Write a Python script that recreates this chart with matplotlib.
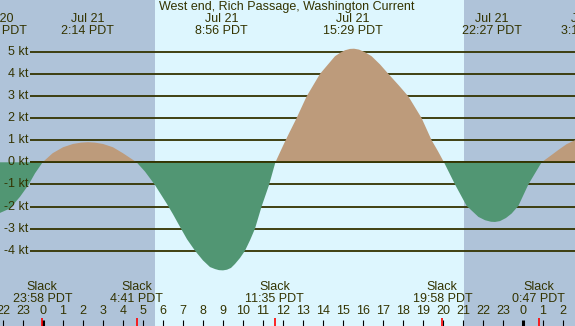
import matplotlib
matplotlib.use('Agg')
import matplotlib.pyplot as plt
import numpy as np

# current speed (kt), hours from Jul 21 00:00 PDT
hours = [-2.15, -1.65, -1.15, -0.73, -0.40, -0.02,
         0.48, 1.0, 1.5, 1.9, 2.25, 2.6, 3.0, 3.5, 4.0, 4.68,
         5.1, 5.6, 6.18, 6.5, 6.85, 7.2, 7.6, 8.0, 8.35, 8.6, 8.8, 9.0, 9.2, 9.4, 9.6, 9.85, 10.1, 10.35,
         10.6, 10.93, 11.3, 11.62,
         12.1, 12.35, 12.68, 13.18, 13.85, 14.6, 14.85, 15.1, 15.35, 15.55, 15.8, 16.1, 16.43, 16.85,
         17.27, 17.8, 18.27, 18.93, 19.43, 19.75, 20.05,
         20.6, 21.18, 21.77, 22.1, 22.4, 22.6, 22.85, 23.15, 23.43, 23.77, 24.27, 24.6, 24.93,
         25.43, 25.77, 26.18, 26.6]
speed = [-2.29, -2.09, -1.56, -1.03, -0.50, 0.0,
         0.41, 0.68, 0.83, 0.89, 0.91, 0.89, 0.83, 0.68, 0.41, 0.0,
         -0.42, -1.03, -1.86, -2.35, -2.92, -3.48, -4.0, -4.44, -4.74, -4.83, -4.88, -4.89, -4.86, -4.78,
         -4.6, -4.33, -4.0, -3.53,
         -3.0, -2.0, -1.03, 0.0,
         0.94, 1.40, 2.0, 2.98, 4.0, 4.8, 4.95, 5.07, 5.13, 5.14, 5.1, 4.98, 4.8, 4.43,
         4.0, 3.47, 2.98, 2.0, 1.0, 0.5, 0.0,
         -1.0, -1.97, -2.47, -2.62, -2.69, -2.7, -2.66, -2.52, -2.32, -1.97, -1.0, -0.5, 0.0,
         0.33, 0.56, 0.82, 1.0]

title = 'West end, Rich Passage, Washington Current'
max_dates = ['Jul 20', 'Jul 21', 'Jul 21', 'Jul 21', 'Jul 21', 'Jul 22']
max_days = [-1, 0, 0, 0, 0, 1]
max_times = ['21:42', '2:14', '8:56', '15:29', '22:27', '3:13']
slack_days = [-1, 0, 0, 0, 1]
slack_times = ['23:58', '4:41', '11:35', '19:58', '0:47']
sunrise = '5:36'
sunset = '21:03'
kt_levels = [5, 4, 3, 2, 1, 0, -1, -2, -3, -4]


def to_hour(day, s):
    h, m = s.split(':')
    return day * 24 + int(h) + int(m) / 60.0


def py(p):
    # pixel row (from top) -> knots
    return (162.3 - p) / 22.1


night = '#afc3d9'
day = '#ddf6fe'
flood = '#bd9b7b'
ebb = '#519673'
ink = '#333300'

plt.rcParams['font.family'] = ['Liberation Sans', 'DejaVu Sans']
fig = plt.figure(figsize=(5.75, 3.26), dpi=100)
ax = fig.add_axes([0, 0, 1, 1])
x0, x1 = -2.15, 26.6
ax.set_xlim(x0, x1)
ax.set_ylim(py(326), py(0))
ax.axis('off')

rise = to_hour(0, sunrise)
sset = to_hour(0, sunset)
ax.axvspan(x0, rise, color=night, lw=0, zorder=0)
ax.axvspan(rise, sset, color=day, lw=0, zorder=0)
ax.axvspan(sset, x1, color=night, lw=0, zorder=0)

t = np.array(hours)
v = np.array(speed)
ax.hlines(kt_levels, -0.65, x1, color=ink, lw=1.3, zorder=1)
ax.fill_between(t, v, 0, where=v >= 0, interpolate=True, color=flood, lw=0, zorder=2)
ax.fill_between(t, v, 0, where=v <= 0, interpolate=True, color=ebb, lw=0, zorder=2)
ax.hlines([0], -0.65, x1, color=ink, lw=1.3, zorder=3)

for k in kt_levels:
    ax.text(-0.75, k, '%d kt' % k, ha='right', va='center', fontsize=9, color=ink)

ax.text((287 - 43) / 20.0, py(7), title, ha='center', va='center', fontsize=9, color=ink)

for d, dt, tm in zip(max_days, max_dates, max_times):
    h = to_hour(d, tm)
    ax.text(h, py(19.5), dt, ha='center', va='center', fontsize=9, color=ink)
    ax.text(h, py(31), tm + ' PDT', ha='center', va='center', fontsize=9, color=ink)

for d, tm in zip(slack_days, slack_times):
    h = to_hour(d, tm)
    ax.text(h, py(287), 'Slack', ha='center', va='center', fontsize=9, color=ink)
    ax.text(h, py(299.5), tm + ' PDT', ha='center', va='center', fontsize=9, color=ink)

# hour ticks along the bottom edge
for h in range(-2, 27):
    ax.text(h, py(311.5), str(h % 24), ha='center', va='center', fontsize=9, color=ink)
    lw = 2.2 if h % 24 == 0 else 0.8
    ax.vlines(h, py(326), py(320), color='black', lw=lw, zorder=4)

for d, tm in zip(slack_days, slack_times):
    h = to_hour(d, tm)
    ax.vlines(h, py(326), py(318), color='red', lw=1.2, zorder=5)

plt.savefig('out.png', dpi=100)
